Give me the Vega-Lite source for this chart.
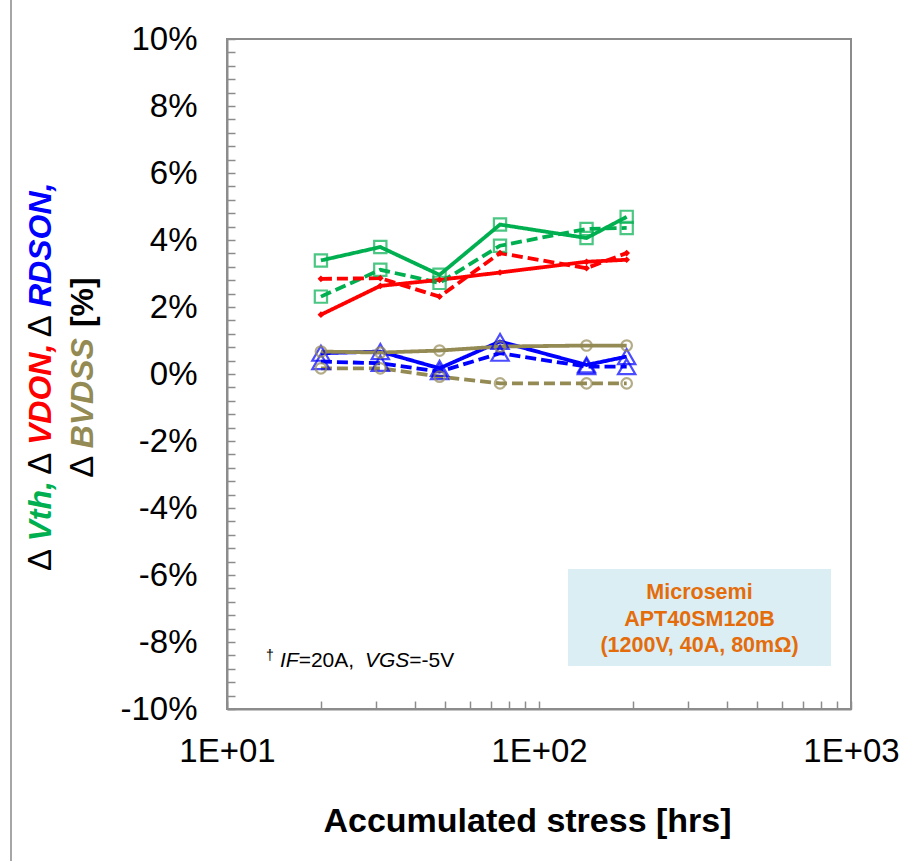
{
  "$schema": "https://vega.github.io/schema/vega-lite/v6.json",
  "width": 624,
  "height": 670,
  "autosize": {"type": "none"},
  "padding": {"left": 227, "top": 39, "right": 63, "bottom": 152},
  "background": "white",
  "config": {
    "font": "Liberation Sans",
    "view": {"stroke": "#8c8c8c", "strokeWidth": 2},
    "axis": {"domainColor": "#8c8c8c", "domainWidth": 2, "tickColor": "#8c8c8c", "tickWidth": 1.5, "grid": false, "labelColor": "black", "labelFont": "Liberation Sans"}
  },
  "datasets": {
    "series": [
      {"t": 20, "v": 3.39, "param": "Vth", "cond": "A"},
      {"t": 31, "v": 3.79, "param": "Vth", "cond": "A"},
      {"t": 48, "v": 2.96, "param": "Vth", "cond": "A"},
      {"t": 75, "v": 4.46, "param": "Vth", "cond": "A"},
      {"t": 142, "v": 4.06, "param": "Vth", "cond": "A"},
      {"t": 191, "v": 4.69, "param": "Vth", "cond": "A"},
      {"t": 20, "v": 2.31, "param": "Vth", "cond": "B"},
      {"t": 31, "v": 3.11, "param": "Vth", "cond": "B"},
      {"t": 48, "v": 2.72, "param": "Vth", "cond": "B"},
      {"t": 75, "v": 3.83, "param": "Vth", "cond": "B"},
      {"t": 142, "v": 4.33, "param": "Vth", "cond": "B"},
      {"t": 191, "v": 4.36, "param": "Vth", "cond": "B"},
      {"t": 20, "v": 1.77, "param": "VDON", "cond": "A"},
      {"t": 31, "v": 2.63, "param": "VDON", "cond": "A"},
      {"t": 48, "v": 2.81, "param": "VDON", "cond": "A"},
      {"t": 75, "v": 3.03, "param": "VDON", "cond": "A"},
      {"t": 142, "v": 3.35, "param": "VDON", "cond": "A"},
      {"t": 191, "v": 3.41, "param": "VDON", "cond": "A"},
      {"t": 20, "v": 2.84, "param": "VDON", "cond": "B"},
      {"t": 31, "v": 2.86, "param": "VDON", "cond": "B"},
      {"t": 48, "v": 2.31, "param": "VDON", "cond": "B"},
      {"t": 75, "v": 3.61, "param": "VDON", "cond": "B"},
      {"t": 142, "v": 3.16, "param": "VDON", "cond": "B"},
      {"t": 191, "v": 3.61, "param": "VDON", "cond": "B"},
      {"t": 20, "v": 0.62, "param": "RDSON", "cond": "A"},
      {"t": 31, "v": 0.67, "param": "RDSON", "cond": "A"},
      {"t": 48, "v": 0.17, "param": "RDSON", "cond": "A"},
      {"t": 75, "v": 0.97, "param": "RDSON", "cond": "A"},
      {"t": 142, "v": 0.27, "param": "RDSON", "cond": "A"},
      {"t": 191, "v": 0.52, "param": "RDSON", "cond": "A"},
      {"t": 20, "v": 0.37, "param": "RDSON", "cond": "B"},
      {"t": 31, "v": 0.32, "param": "RDSON", "cond": "B"},
      {"t": 48, "v": 0.07, "param": "RDSON", "cond": "B"},
      {"t": 75, "v": 0.62, "param": "RDSON", "cond": "B"},
      {"t": 142, "v": 0.22, "param": "RDSON", "cond": "B"},
      {"t": 191, "v": 0.22, "param": "RDSON", "cond": "B"},
      {"t": 20, "v": 0.67, "param": "BVDSS", "cond": "A"},
      {"t": 31, "v": 0.64, "param": "BVDSS", "cond": "A"},
      {"t": 48, "v": 0.70, "param": "BVDSS", "cond": "A"},
      {"t": 75, "v": 0.82, "param": "BVDSS", "cond": "A"},
      {"t": 142, "v": 0.85, "param": "BVDSS", "cond": "A"},
      {"t": 191, "v": 0.85, "param": "BVDSS", "cond": "A"},
      {"t": 20, "v": 0.17, "param": "BVDSS", "cond": "B"},
      {"t": 31, "v": 0.17, "param": "BVDSS", "cond": "B"},
      {"t": 48, "v": -0.08, "param": "BVDSS", "cond": "B"},
      {"t": 75, "v": -0.28, "param": "BVDSS", "cond": "B"},
      {"t": 142, "v": -0.28, "param": "BVDSS", "cond": "B"},
      {"t": 191, "v": -0.28, "param": "BVDSS", "cond": "B"}
    ],
    "one": [{"k": 1}]
  },
  "layer": [
    {
      "data": {"name": "one"},
      "mark": {"type": "rule", "color": "#a6a6a6", "strokeWidth": 2, "clip": false},
      "encoding": {"x": {"datum": 2.031}, "y": {"datum": 11.2}, "y2": {"datum": -14.6}}
    },
    {
      "data": {"name": "one"},
      "mark": {"type": "rect", "color": "#DAEEF3", "clip": false},
      "encoding": {"x": {"datum": 123.8}, "x2": {"datum": 862.9}, "y": {"datum": -5.82}, "y2": {"datum": -8.72}}
    },
    {
      "data": {"name": "one"},
      "mark": {"type": "text", "text": ["Microsemi", "APT40SM120B", "(1200V, 40A, 80mΩ)"], "fontSize": 21.5, "fontWeight": "bold", "color": "#E46C0A", "align": "center", "baseline": "middle", "lineHeight": 26.5},
      "encoding": {"x": {"datum": 326.9}, "y": {"datum": -6.54}}
    },
    {
      "data": {"name": "series"},
      "encoding": {
        "x": {
          "field": "t", "type": "quantitative",
          "scale": {"type": "log", "domain": [10, 1000], "nice": false},
          "axis": {
            "values": [10, 20, 30, 40, 50, 60, 70, 80, 90, 100, 200, 300, 400, 500, 600, 700, 800, 900, 1000],
            "tickCount": 100,
            "labelExpr": "datum.value == 10 ? '1E+01' : datum.value == 100 ? '1E+02' : datum.value == 1000 ? '1E+03' : ''",
            "tickSize": -8,
            "labelFontSize": 33,
            "labelPadding": 34,
            "labelFlush": false,
            "labelOverlap": false,
            "title": "Accumulated stress [hrs]",
            "titleFontSize": 34,
            "titleFontWeight": "bold",
            "titleColor": "black",
            "titleX": 300,
            "titleY": 122,
            "titleBaseline": "alphabetic",
            "titleAnchor": "middle"
          }
        },
        "y": {
          "field": "v", "type": "quantitative",
          "scale": {"domain": [-10, 10], "nice": false, "zero": false},
          "axis": {
            "values": [-10, -9.6, -9.2, -8.8, -8.4, -8, -7.6, -7.2, -6.8, -6.4, -6, -5.6, -5.2, -4.8, -4.4, -4, -3.6, -3.2, -2.8, -2.4, -2, -1.6, -1.2, -0.8, -0.4, 0, 0.4, 0.8, 1.2, 1.6, 2, 2.4, 2.8, 3.2, 3.6, 4, 4.4, 4.8, 5.2, 5.6, 6, 6.4, 6.8, 7.2, 7.6, 8, 8.4, 8.8, 9.2, 9.6, 10],
            "tickCount": 100,
            "labelExpr": "abs(datum.value % 2) < 0.01 ? round(datum.value) + '%' : ''",
            "tickSize": -8,
            "labelFontSize": 33,
            "labelPadding": 38,
            "labelFlush": false,
            "labelOverlap": false,
            "title": null
          }
        }
      },
      "layer": [
        {
          "mark": {"type": "line", "strokeWidth": 3.8},
          "encoding": {
            "color": {"field": "param", "type": "nominal", "scale": {"domain": ["Vth", "VDON", "RDSON", "BVDSS"], "range": ["#00B050", "#FF0000", "#0000FF", "#948A54"]}, "legend": null},
            "strokeDash": {"field": "cond", "type": "nominal", "scale": {"domain": ["A", "B"], "range": [[1, 0], [11, 5]]}, "legend": null},
            "detail": {"field": "param"}
          }
        },
        {
          "transform": [{"filter": "datum.param == 'Vth'"}],
          "mark": {"type": "point", "shape": "square", "filled": false, "size": 150, "strokeWidth": 2.2, "color": "#00B050"},
          "encoding": {}
        },
        {
          "transform": [{"filter": "datum.param == 'VDON'"}],
          "mark": {"type": "point", "shape": "diamond", "filled": true, "size": 45, "color": "#FF0000", "opacity": 1},
          "encoding": {}
        },
        {
          "transform": [{"filter": "datum.param == 'RDSON'"}],
          "mark": {"type": "point", "shape": "triangle-up", "filled": false, "size": 300, "strokeWidth": 2.2, "color": "#0000FF"},
          "encoding": {}
        },
        {
          "transform": [{"filter": "datum.param == 'BVDSS'"}],
          "mark": {"type": "point", "shape": "circle", "filled": false, "size": 110, "strokeWidth": 2.2, "color": "#948A54"},
          "encoding": {}
        }
      ]
    },
    {
      "data": {"name": "one"},
      "mark": {"type": "text", "text": "Δ", "angle": 270, "align": "left", "baseline": "middle", "fontSize": 33, "color": "black"},
      "encoding": {"x": {"datum": 2.534}, "y": {"datum": -5.88}}
    },
    {
      "data": {"name": "one"},
      "mark": {"type": "text", "text": "Vth,", "angle": 270, "align": "left", "baseline": "middle", "fontSize": 32, "fontWeight": "bold", "fontStyle": "italic", "color": "#00B050"},
      "encoding": {"x": {"datum": 2.534}, "y": {"datum": -5.0}}
    },
    {
      "data": {"name": "one"},
      "mark": {"type": "text", "text": "Δ", "angle": 270, "align": "left", "baseline": "middle", "fontSize": 33, "color": "black"},
      "encoding": {"x": {"datum": 2.534}, "y": {"datum": -3.01}}
    },
    {
      "data": {"name": "one"},
      "mark": {"type": "text", "text": "VDON,", "angle": 270, "align": "left", "baseline": "middle", "fontSize": 32, "fontWeight": "bold", "fontStyle": "italic", "color": "#FF0000"},
      "encoding": {"x": {"datum": 2.534}, "y": {"datum": -2.12}}
    },
    {
      "data": {"name": "one"},
      "mark": {"type": "text", "text": "Δ", "angle": 270, "align": "left", "baseline": "middle", "fontSize": 33, "color": "black"},
      "encoding": {"x": {"datum": 2.534}, "y": {"datum": 1.10}}
    },
    {
      "data": {"name": "one"},
      "mark": {"type": "text", "text": "RDSON,", "angle": 270, "align": "left", "baseline": "middle", "fontSize": 32, "fontWeight": "bold", "fontStyle": "italic", "color": "#0000FF"},
      "encoding": {"x": {"datum": 2.534}, "y": {"datum": 2.0}}
    },
    {
      "data": {"name": "one"},
      "mark": {"type": "text", "text": "Δ", "angle": 270, "align": "left", "baseline": "middle", "fontSize": 33, "color": "black"},
      "encoding": {"x": {"datum": 3.455}, "y": {"datum": -3.10}}
    },
    {
      "data": {"name": "one"},
      "mark": {"type": "text", "text": "BVDSS", "angle": 270, "align": "left", "baseline": "middle", "fontSize": 32, "fontWeight": "bold", "fontStyle": "italic", "color": "#948A54"},
      "encoding": {"x": {"datum": 3.455}, "y": {"datum": -2.22}}
    },
    {
      "data": {"name": "one"},
      "mark": {"type": "text", "text": "[%]", "angle": 270, "align": "left", "baseline": "middle", "fontSize": 32, "fontWeight": "bold", "color": "black"},
      "encoding": {"x": {"datum": 3.455}, "y": {"datum": 1.40}}
    },
    {
      "data": {"name": "one"},
      "mark": {"type": "text", "text": "†", "align": "left", "baseline": "alphabetic", "fontSize": 14, "color": "black"},
      "encoding": {"x": {"datum": 13.34}, "y": {"datum": -8.54}}
    },
    {
      "data": {"name": "one"},
      "mark": {"type": "text", "text": "IF", "align": "left", "baseline": "alphabetic", "fontSize": 21, "fontStyle": "italic", "color": "black"},
      "encoding": {"x": {"datum": 14.79}, "y": {"datum": -8.76}}
    },
    {
      "data": {"name": "one"},
      "mark": {"type": "text", "text": "=20A,", "align": "left", "baseline": "alphabetic", "fontSize": 21, "color": "black"},
      "encoding": {"x": {"datum": 16.97}, "y": {"datum": -8.76}}
    },
    {
      "data": {"name": "one"},
      "mark": {"type": "text", "text": "VGS", "align": "left", "baseline": "alphabetic", "fontSize": 21, "fontStyle": "italic", "color": "black"},
      "encoding": {"x": {"datum": 27.69}, "y": {"datum": -8.76}}
    },
    {
      "data": {"name": "one"},
      "mark": {"type": "text", "text": "=-5V", "align": "left", "baseline": "alphabetic", "fontSize": 21, "color": "black"},
      "encoding": {"x": {"datum": 38.41}, "y": {"datum": -8.76}}
    }
  ]
}
